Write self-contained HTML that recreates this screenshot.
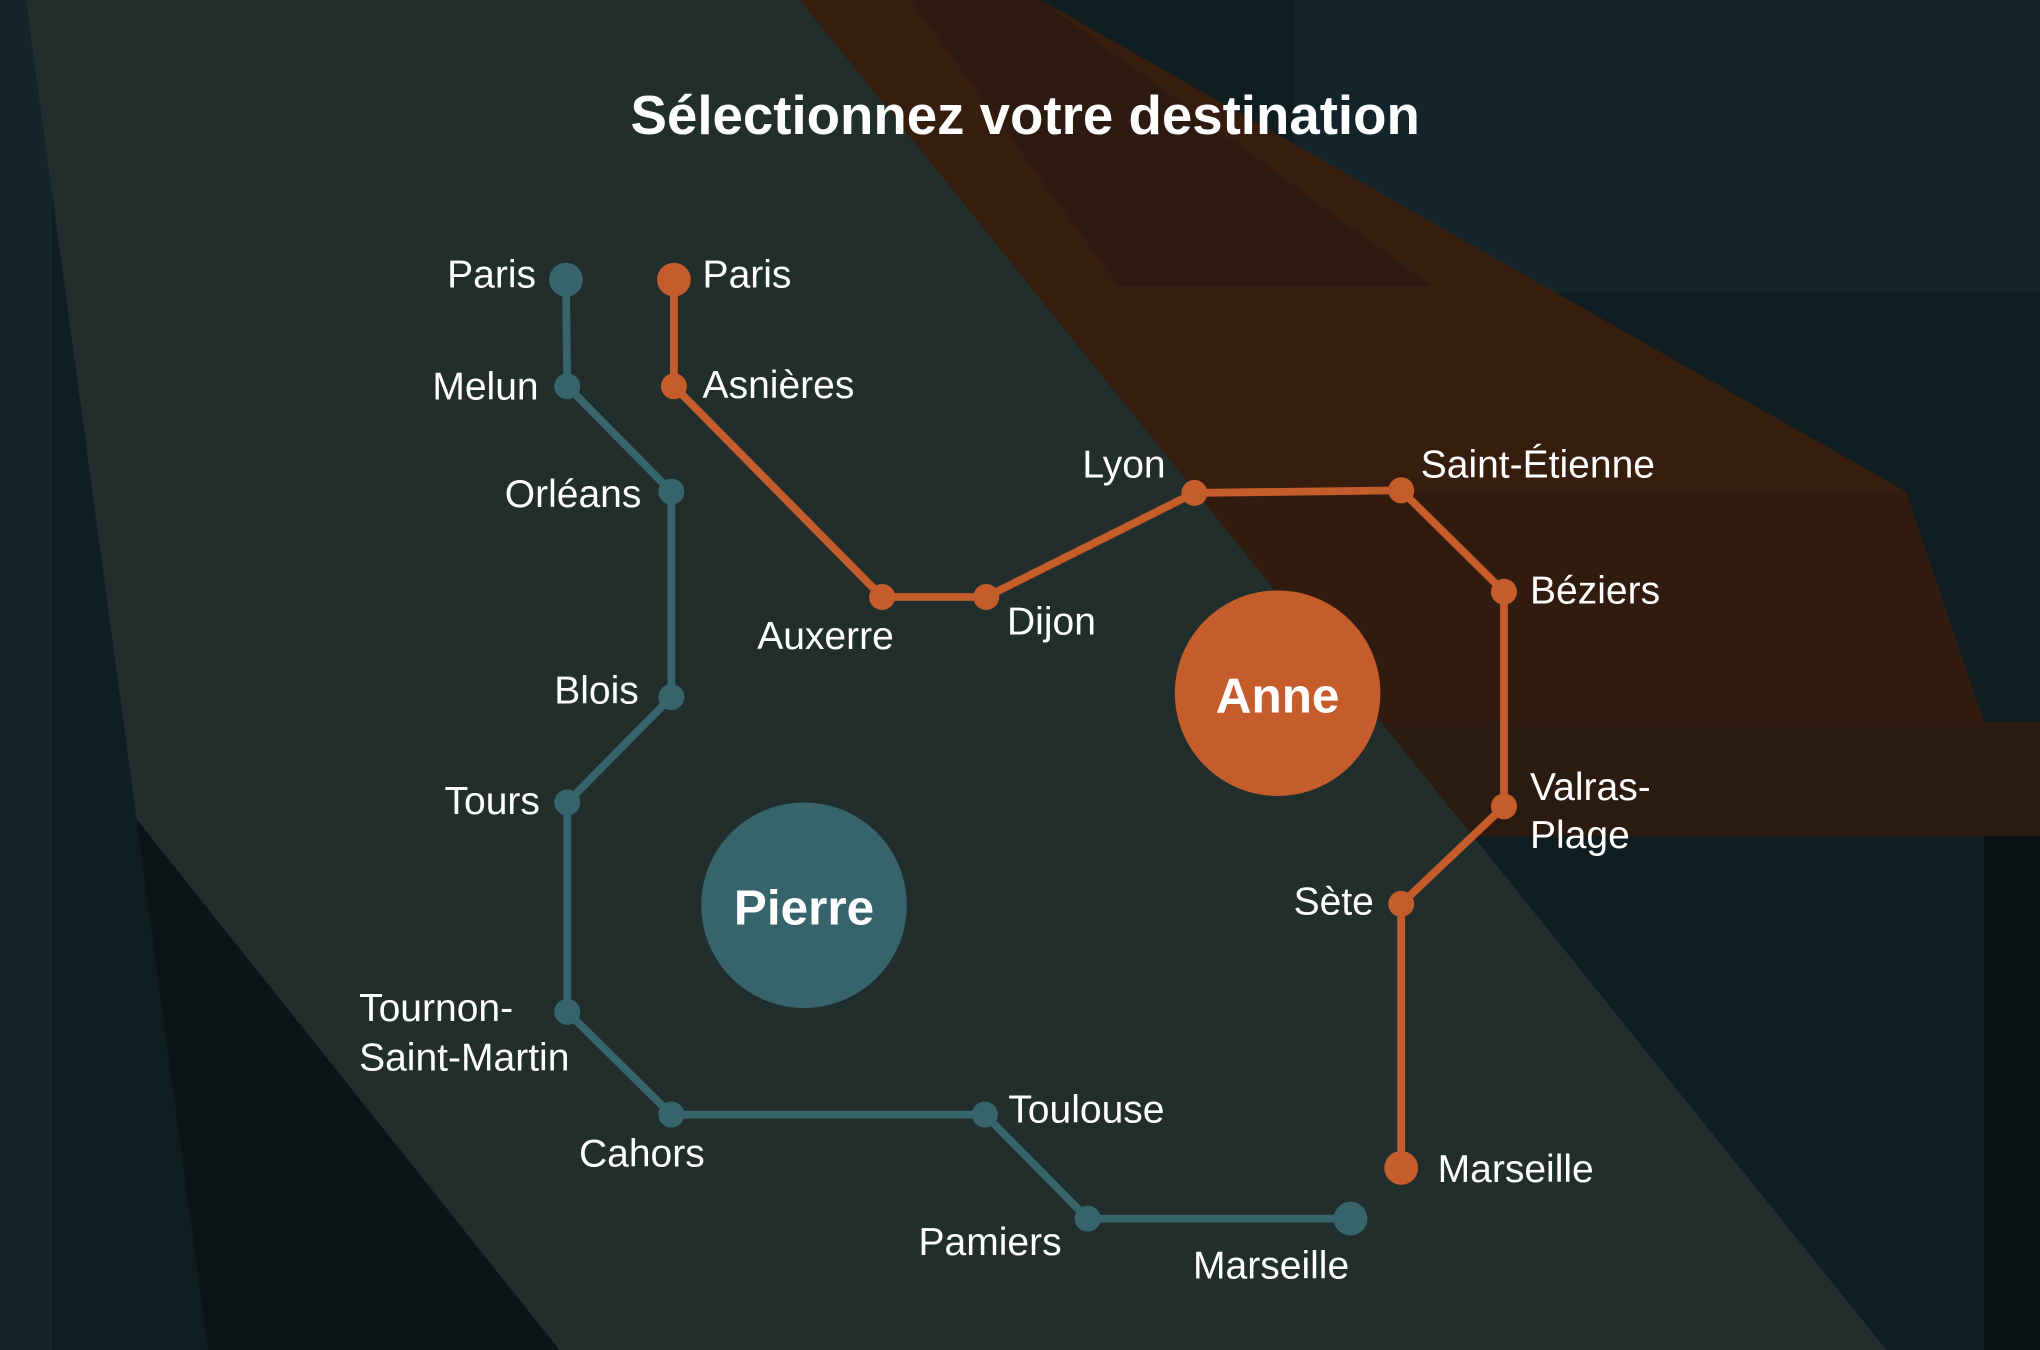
<!DOCTYPE html>
<html><head><meta charset="utf-8"><style>
html,body{margin:0;padding:0;background:#0d181b;}
svg{display:block}
text{font-family:"Liberation Sans",sans-serif;fill:#fff;}
</style></head><body>
<svg width="2040" height="1350" viewBox="0 0 1568 1038" preserveAspectRatio="none" xmlns="http://www.w3.org/2000/svg">
<rect width="1568" height="1038" fill="#0f1c20"/>
<rect x="0" y="0" width="40" height="1038" fill="#14252a"/>
<rect x="995" y="0" width="573" height="225" fill="#13242a"/>
<polygon points="20,0 615,0 1450,1038 430,1038 105,630" fill="#212e2c"/>
<polygon points="105,630 430,1038 160,1038" fill="#0b1416"/>
<polygon points="615,0 800,0 1525,555 1568,555 1568,643 1132,643" fill="#2b1a10"/>
<polygon points="615,0 800,0 1465,378 919,378" fill="#361d0e"/>
<polygon points="700,0 800,0 1100,220 860,220" fill="#2c1a10"/>
<polygon points="919,378 1465,378 1525,555 1061,555" fill="#311b0e"/>
<rect x="1525" y="643" width="43" height="395" fill="#0a1315"/>
<text x="788" y="103" font-size="42" font-weight="bold" text-anchor="middle">Sélectionnez votre destination</text>
<g fill="none" stroke-width="6" stroke-linejoin="round">
<polyline stroke="#36646a" points="435,215 436,297 516,378 516,536 436,617 436,778 516,857 757,857 836,937 1038,937"/>
<polyline stroke="#c45c2c" points="518,215 518,297 678,459 758,459 918,379 1077,377 1156,455 1156,620 1077,695 1077,898"/>
</g>
<g fill="#36646a">
<circle cx="435" cy="215" r="13"/><circle cx="436" cy="297" r="10"/><circle cx="516" cy="378" r="10"/><circle cx="516" cy="536" r="10"/><circle cx="436" cy="617" r="10"/><circle cx="436" cy="778" r="10"/><circle cx="516" cy="857" r="10"/><circle cx="757" cy="857" r="10"/><circle cx="836" cy="937" r="10"/><circle cx="1038" cy="937" r="13"/>
<circle cx="618" cy="696" r="79"/>
</g>
<g fill="#c45c2c">
<circle cx="518" cy="215" r="13"/><circle cx="518" cy="297" r="10"/><circle cx="678" cy="459" r="10"/><circle cx="758" cy="459" r="10"/><circle cx="918" cy="379" r="10"/><circle cx="1077" cy="377" r="10"/><circle cx="1156" cy="455" r="10"/><circle cx="1156" cy="620" r="10"/><circle cx="1077" cy="695" r="10"/><circle cx="1077" cy="898" r="13"/>
<circle cx="982" cy="533" r="79"/>
</g>
<text x="618" y="711" font-size="38" font-weight="bold" text-anchor="middle">Pierre</text>
<text x="982" y="548" font-size="38" font-weight="bold" text-anchor="middle">Anne</text>
<g font-size="30">
<text x="412" y="221" text-anchor="end">Paris</text>
<text x="414" y="307" text-anchor="end">Melun</text>
<text x="493" y="390" text-anchor="end">Orléans</text>
<text x="491" y="541" text-anchor="end">Blois</text>
<text x="415" y="626" text-anchor="end">Tours</text>
<text x="276" y="785">Tournon-</text>
<text x="276" y="823">Saint-Martin</text>
<text x="445" y="897">Cahors</text>
<text x="775" y="863">Toulouse</text>
<text x="706" y="965">Pamiers</text>
<text x="917" y="983">Marseille</text>
<text x="540" y="221">Paris</text>
<text x="540" y="306">Asnières</text>
<text x="582" y="499">Auxerre</text>
<text x="774" y="488">Dijon</text>
<text x="832" y="367">Lyon</text>
<text x="1092" y="367">Saint-Étienne</text>
<text x="1176" y="464">Béziers</text>
<text x="1176" y="615">Valras-</text>
<text x="1176" y="652">Plage</text>
<text x="1056" y="703" text-anchor="end">Sète</text>
<text x="1105" y="909">Marseille</text>
</g>
</svg>
</body></html>
